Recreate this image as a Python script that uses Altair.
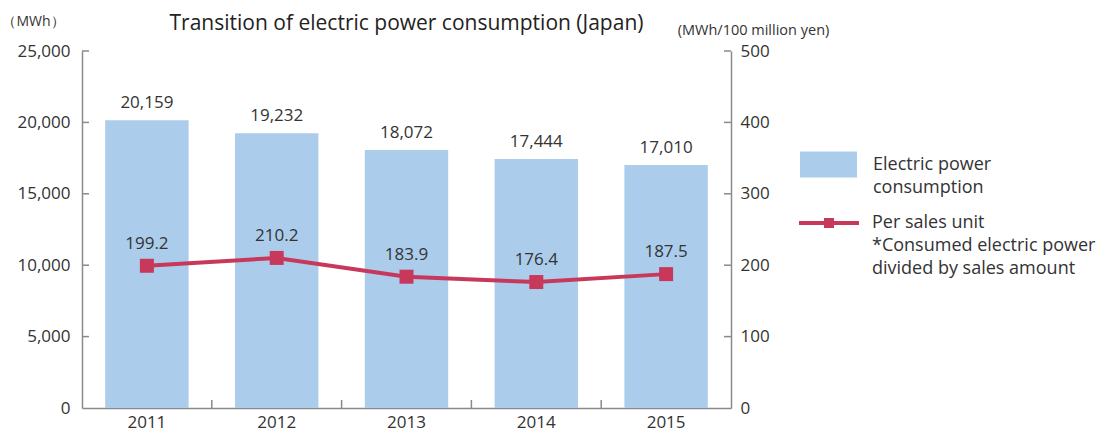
import altair as alt
import pandas as pd

years = ["2011", "2012", "2013", "2014", "2015"]
consumption = [20159, 19232, 18072, 17444, 17010]
per_sales = [199.2, 210.2, 183.9, 176.4, 187.5]
left_ticks = [5000, 10000, 15000, 20000, 25000]
right_ticks = [0, 100, 200, 300, 400, 500]
bar_series = "Electric power consumption"
line_series = "Per sales unit"

FONT = "Open Sans"
TXT = "#333333"
AX = "#8a8a8a"
BAR = "#abcdeb"
LINE = "#c8385b"

W, H = 649, 357
step = W / len(years)

df = pd.DataFrame({"year": years, "consumption": consumption, "per_sales": per_sales,
                   "bseries": [bar_series] * 5, "lseries": [line_series] * 5})
tick_df = pd.DataFrame({"consumption": left_ticks})
bound_df = pd.DataFrame({"year": years[:-1]})

xscale = alt.Scale(paddingInner=0.357, paddingOuter=0.1785)
xaxis = alt.Axis(title=None, labelAngle=0, tickSize=0, domainColor=AX, domainWidth=1.5,
                 labelFontSize=17, labelColor=TXT, labelFont=FONT, labelPadding=6)


def xenc():
    return alt.X("year:N", scale=xscale, axis=xaxis)


yleft_scale = alt.Scale(domain=[0, 25000], nice=False, zero=True)
left_axis = alt.Axis(values=[0] + left_ticks, labelExpr="format(datum.value, ',')", tickSize=0,
                     grid=False, domainColor=AX,
                     domainWidth=1.5, labelFontSize=17, labelColor=TXT, labelFont=FONT, labelPadding=12,
                     title="（MWh）", titleAngle=0, titleX=-49, titleY=-30, titleAlign="center",
                     titleBaseline="middle", titleFont=FONT, titleFontSize=14, titleFontWeight="normal",
                     titleColor=TXT)


def yleft():
    return alt.Y("consumption:Q", scale=yleft_scale, axis=left_axis)


yright_scale = alt.Scale(domain=[0, 500], nice=False, zero=True)
right_axis = alt.Axis(values=right_ticks, orient="right", tickSize=0, grid=False, domainColor=AX,
                      domainWidth=1.5, labelFontSize=17, labelColor=TXT, labelFont=FONT, labelPadding=9,
                      title="(MWh/100 million yen)", titleAngle=0, titleX=22, titleY=-21,
                      titleAlign="center", titleBaseline="middle", titleFont=FONT, titleFontSize=14.5,
                      titleFontWeight="normal", titleColor=TXT)


def yright():
    return alt.Y("per_sales:Q", scale=yright_scale, axis=right_axis)


bar_sym = "M-1,-0.456H1V0.456H-1Z"
line_sym = "M-1,-0.067H1V0.067H-1Z M-0.167,-0.167H0.167V0.167H-0.167Z"

bars = alt.Chart(df).mark_bar(size=83.4).encode(
    x=xenc(),
    y=yleft(),
    color=alt.Color("bseries:N", scale=alt.Scale(domain=[bar_series], range=[BAR]),
                    legend=alt.Legend(title=None, orient="none", legendX=718, legendY=85, padding=0,
                                      symbolType=bar_sym, symbolSize=3249, symbolStrokeWidth=0,
                                      labelOffset=16, labelFont=FONT, labelFontSize=18, labelColor=TXT,
                                      labelLimit=300, labelBaseline="middle",
                                      labelExpr="['Electric power', 'consumption']")),
)
bar_text = alt.Chart(df).mark_text(font=FONT, fontSize=17, color=TXT, baseline="bottom", dy=-8).encode(
    x=xenc(), y=yleft(), text=alt.Text("consumption:Q", format=","))
ltick_l = alt.Chart(tick_df).mark_rule(color=AX, strokeWidth=1.5).encode(
    y=yleft(), x=alt.value(0), x2=alt.value(7))
ltick_r = alt.Chart(tick_df).mark_rule(color=AX, strokeWidth=1.5).encode(
    y=yleft(), x=alt.value(W - 7), x2=alt.value(W))
btick = alt.Chart(bound_df).mark_rule(color=AX, strokeWidth=1.5, xOffset=step / 2).encode(
    x=xenc(), y=alt.value(H - 8), y2=alt.value(H))

left = alt.layer(bars, bar_text, ltick_l, ltick_r, btick)

line = alt.Chart(df).mark_line(color=LINE, strokeWidth=4).encode(x=xenc(), y=yright())
pts = alt.Chart(df).mark_square(size=196, opacity=1, filled=True).encode(
    x=xenc(), y=yright(),
    color=alt.Color("lseries:N", scale=alt.Scale(domain=[line_series], range=[LINE]),
                    legend=alt.Legend(title=None, orient="none", legendX=717, legendY=142, padding=0,
                                      symbolType=line_sym, symbolSize=3600, symbolStrokeWidth=0,
                                      symbolOpacity=1,
                                      labelOffset=13, labelFont=FONT, labelFontSize=18, labelColor=TXT,
                                      labelLimit=300, labelBaseline="middle",
                                      labelExpr="['Per sales unit', '*Consumed electric power', 'divided by sales amount']")),
)
line_text = alt.Chart(df).mark_text(font=FONT, fontSize=17, color=TXT, baseline="bottom", dy=-13).encode(
    x=xenc(), y=yright(), text=alt.Text("per_sales:Q", format=".1f"))
right = alt.layer(line, pts, line_text)

chart = alt.layer(left, right).resolve_scale(y="independent", color="independent").properties(
    width=W, height=H,
    title=alt.TitleParams("Transition of electric power consumption (Japan)", font=FONT, fontSize=21,
                          fontWeight="normal", color="#222222", anchor="middle", dy=24),
    autosize=alt.AutoSizeParams(type="none"),
    padding={"left": 74, "top": 43, "right": 370, "bottom": 24},
).configure(style={"guide-label": {"lineHeight": 23}}).configure_view(stroke=None)

chart.save("out.html", embed_options={"renderer": "svg", "actions": False})
